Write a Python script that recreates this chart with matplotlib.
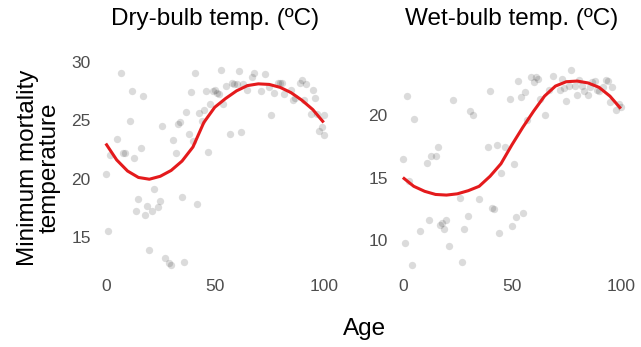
import matplotlib
matplotlib.use('Agg')
from matplotlib import pyplot as plt

plt.rcParams['font.family'] = ['Liberation Sans', 'DejaVu Sans']

# Dry-bulb: optimum temperature by age
dry_age = [0, 1, 2, 5, 7, 8, 9, 11, 12, 13, 14, 15, 16, 17, 18, 19, 20, 21, 22, 24,
           25, 26, 27, 29, 30, 31, 32, 33, 34, 35, 36, 37, 38, 39, 40, 41, 42, 43, 44, 45,
           46, 47, 48, 49, 50, 51, 52, 53, 54, 55, 57, 58, 59, 60, 61, 62, 63, 65, 67, 68,
           71, 73, 75, 76, 77, 79, 80, 81, 82, 85, 86, 87, 89, 90, 91, 92, 94, 95, 96, 97,
           98, 99, 100, 100]
dry_temp = [20.4, 15.5, 22.0, 23.4, 29.0, 22.2, 22.2, 24.9, 27.5, 21.8, 17.2, 18.3, 22.6, 27.1, 16.9, 17.7, 13.9, 17.2, 19.1, 17.6,
            18.1, 24.5, 13.2, 12.8, 12.6, 23.3, 22.2, 24.7, 24.8, 18.4, 12.9, 25.7, 23.8, 27.4, 23.2, 29.0, 17.8, 25.6, 24.9, 25.9,
            27.5, 22.3, 26.4, 27.5, 27.6, 27.3, 27.2, 29.3, 26.4, 27.9, 23.8, 28.2, 28.1, 28.1, 29.2, 24.0, 28.1, 27.6, 28.7, 29.0,
            27.5, 28.9, 27.8, 25.4, 27.3, 28.2, 28.2, 28.2, 27.2, 27.6, 26.7, 26.9, 28.2, 28.4, 26.7, 28.1, 25.5, 27.6, 26.9, 25.5,
            24.1, 24.4, 25.4, 23.7]

# Wet-bulb: optimum temperature by age
wet_age = [0, 1, 2, 3, 4, 5, 8, 11, 12, 13, 15, 16, 17, 18, 19, 20, 21, 23, 26, 27,
           28, 30, 31, 32, 35, 39, 40, 41, 42, 43, 44, 45, 47, 49, 50, 51, 52, 53, 54, 55,
           56, 57, 59, 60, 61, 62, 63, 65, 67, 69, 72, 73, 74, 75, 76, 77, 79, 80, 81, 82,
           83, 85, 86, 87, 88, 89, 90, 92, 93, 94, 95, 96, 98, 99, 100]
wet_temp = [16.5, 9.8, 21.5, 14.7, 8.0, 19.65, 10.7, 16.2, 11.6, 16.75, 16.7, 17.4, 11.2, 11.4, 10.9, 11.6, 9.5, 21.2, 13.4, 8.25,
            10.9, 11.9, 20.3, 20.0, 13.3, 17.4, 21.9, 12.6, 12.5, 17.6, 10.6, 15.4, 17.4, 21.3, 11.1, 16.05, 11.85, 22.7, 21.4, 12.15,
            21.8, 19.6, 23.0, 22.6, 23.05, 22.9, 21.3, 20.0, 21.96, 23.1, 22.0, 22.9, 22.15, 21.1, 22.3, 23.6, 22.3, 21.6, 22.8, 22.3,
            21.9, 21.6, 22.2, 22.6, 22.7, 22.0, 21.9, 22.2, 22.8, 22.7, 21.0, 22.2, 20.4, 20.9, 20.6]

# Smoothed fits
fit_age = [0, 5, 10, 15, 20, 25, 30, 35, 40, 45, 50, 55, 60, 65, 70, 75, 80, 85, 90, 95, 100]
dry_fit = [23.0, 21.6, 20.65, 20.1, 19.95, 20.2, 20.7, 21.5, 22.7, 24.8, 26.1, 26.85, 27.5, 27.95, 28.1, 28.05,
           27.8, 27.35, 26.7, 25.9, 24.8]
wet_fit = [15.0, 14.3, 13.9, 13.65, 13.6, 13.7, 13.95, 14.3, 15.1, 16.1, 17.6, 19.0, 20.3, 21.5, 22.3, 22.65,
           22.7, 22.55, 22.2, 21.5, 20.5]

panels = [
    ('Dry-bulb temp. (ºC)', dry_age, dry_temp, dry_fit, [15, 20, 25, 30]),
    ('Wet-bulb temp. (ºC)', wet_age, wet_temp, wet_fit, [10, 15, 20]),
]

fig = plt.figure(figsize=(6.41, 3.47), dpi=100)
lefts = [0.148, 0.6115]

for left, (title, age, temp, fit, yticks) in zip(lefts, panels):
    ax = fig.add_axes([left, 0.2075, 0.374, 0.6195])
    ax.scatter(age, temp, s=28, color='black', alpha=0.14, linewidths=0)
    ax.plot(fit_age, fit, color='#E41A1C', lw=2.2, solid_capstyle='butt')
    ax.set_xticks([0, 50, 100])
    ax.set_yticks(yticks)
    ax.tick_params(length=0, labelsize=12.5, labelcolor='#4D4D4D', pad=3)
    for s in ax.spines.values():
        s.set_visible(False)
    ax.set_title(title, fontsize=17.5, pad=25)

fig.text(0.569, 0.052, 'Age', ha='center', va='center', fontsize=17.5)
fig.text(0.061, 0.517, 'Minimum mortality\ntemperature', ha='center', va='center',
         rotation=90, fontsize=17.5, linespacing=1.0)

fig.savefig('out.png', dpi=100)
